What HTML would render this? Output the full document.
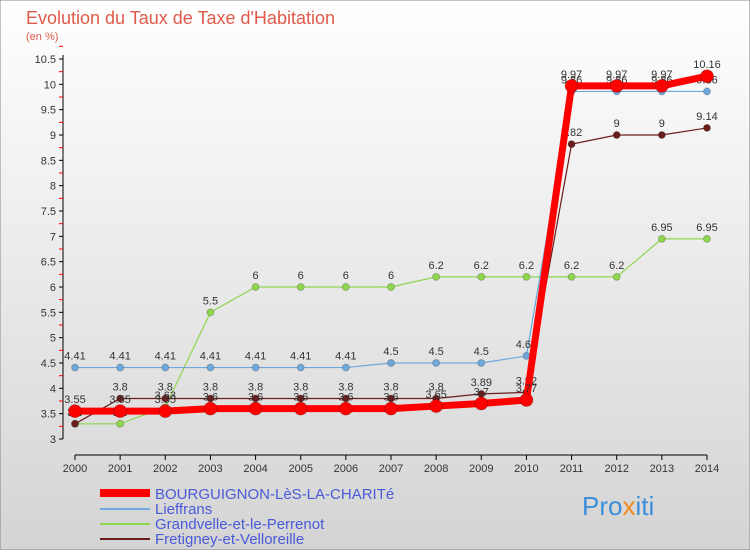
<!DOCTYPE html>
<html><head><meta charset="utf-8"><style>
body{margin:0;width:750px;height:550px;overflow:hidden;font-family:"Liberation Sans",sans-serif}
</style></head><body>
<svg width="750" height="550" xmlns="http://www.w3.org/2000/svg">
<defs><linearGradient id="bg" x1="0" y1="0" x2="0" y2="1"><stop offset="0" stop-color="#ffffff"/><stop offset="1" stop-color="#d4d4d4"/></linearGradient></defs>
<rect x="0" y="0" width="750" height="550" fill="url(#bg)" stroke="#888"/>
<text x="26" y="24" font-size="18" fill="#e05a4a">Evolution du Taux de Taxe d'Habitation</text>
<text x="26" y="40" font-size="11" fill="#e05a4a">(en %)</text>
<g id="axes"></g><g id="series"></g>
<g font-size="15" fill="#4a5ad8">
<line x1="100" y1="493" x2="150" y2="493" stroke="#f00" stroke-width="8"/><text x="155" y="499">BOURGUIGNON-LèS-LA-CHARITé</text>
<line x1="100" y1="509" x2="150" y2="509" stroke="#6fa8dc" stroke-width="2"/><text x="155" y="514">Lieffrans</text>
<line x1="100" y1="524" x2="150" y2="524" stroke="#8fd64f" stroke-width="2"/><text x="155" y="529">Grandvelle-et-le-Perrenot</text>
<line x1="100" y1="539" x2="150" y2="539" stroke="#6b1d1d" stroke-width="2"/><text x="155" y="544">Fretigney-et-Velloreille</text>
</g>
<text x="582" y="515" font-size="26" fill="#3b8ed8">Pro<tspan fill="#f08a1c">x</tspan>iti</text>
</svg>
<script>
const years=[2000,2001,2002,2003,2004,2005,2006,2007,2008,2009,2010,2011,2012,2013,2014];
const redVals=[3.55,3.55,3.55,3.6,3.6,3.6,3.6,3.6,3.65,3.7,3.77,9.97,9.97,9.97,10.16];
const blueVals=[4.41,4.41,4.41,4.41,4.41,4.41,4.41,4.5,4.5,4.5,4.64,9.86,9.86,9.86,9.86];
const greenVals=[3.3,3.3,3.63,5.5,6,6,6,6,6.2,6.2,6.2,6.2,6.2,6.95,6.95];
const brownVals=[3.3,3.8,3.8,3.8,3.8,3.8,3.8,3.8,3.8,3.89,3.92,8.82,9,9,9.14];
const yTicks=[3,3.5,4,4.5,5,5.5,6,6.5,7,7.5,8,8.5,9,9.5,10,10.5];
const NS="http://www.w3.org/2000/svg";
const X=i=>75+i*(707-75)/(years.length-1);
const Y=v=>439-(v-3)*(380/7.5);
function mk(t,a,p){const e=document.createElementNS(NS,t);for(const k in a)e.setAttribute(k,a[k]);p.appendChild(e);return e;}
const ax=document.getElementById('axes');
mk('line',{x1:63,y1:55,x2:63,y2:439,stroke:'#000'},ax);
mk('line',{x1:75,y1:455,x2:707,y2:455,stroke:'#000'},ax);
yTicks.forEach(v=>{mk('line',{x1:59,y1:Y(v),x2:63,y2:Y(v),stroke:'#000'},ax);
 mk('line',{x1:59,y1:Y(v+0.25),x2:63,y2:Y(v+0.25),stroke:'#f00'},ax);
 const t=mk('text',{x:56,y:Y(v)+4,'font-size':11,'text-anchor':'end',fill:'#333'},ax);t.textContent=v;
 });
years.forEach((y,i)=>{mk('line',{x1:X(i),y1:455,x2:X(i),y2:460,stroke:'#000'},ax);
 const t=mk('text',{x:X(i),y:472,'font-size':11,'text-anchor':'middle',fill:'#333'},ax);t.textContent=y;
 });
const sg=document.getElementById('series');
function series(vals,color,w,r,name){
 const g=mk('g',{},sg);
 mk('polyline',{points:vals.map((v,i)=>X(i)+','+Y(v)).join(' '),fill:'none',stroke:color,'stroke-width':w},g);
 vals.forEach((v,i)=>{const c=mk('circle',{cx:X(i),cy:Y(v),r:r,fill:color,stroke:'#0003'},g);
  
  const t=mk('text',{x:X(i),y:Y(v)-8,'font-size':11,'text-anchor':'middle',fill:'#333'},g);t.textContent=v;});
}
series(greenVals,'#8fd64f',1.2,3.5,'grandvelle-series');
series(blueVals,'#6fa8dc',1.2,3.5,'lieffrans-series');
series(brownVals,'#6b1d1d',1.2,3.5,'fretigney-series');
series(redVals,'#f00',7,6.5,'bourguignon-series');
</script>
</body></html>
